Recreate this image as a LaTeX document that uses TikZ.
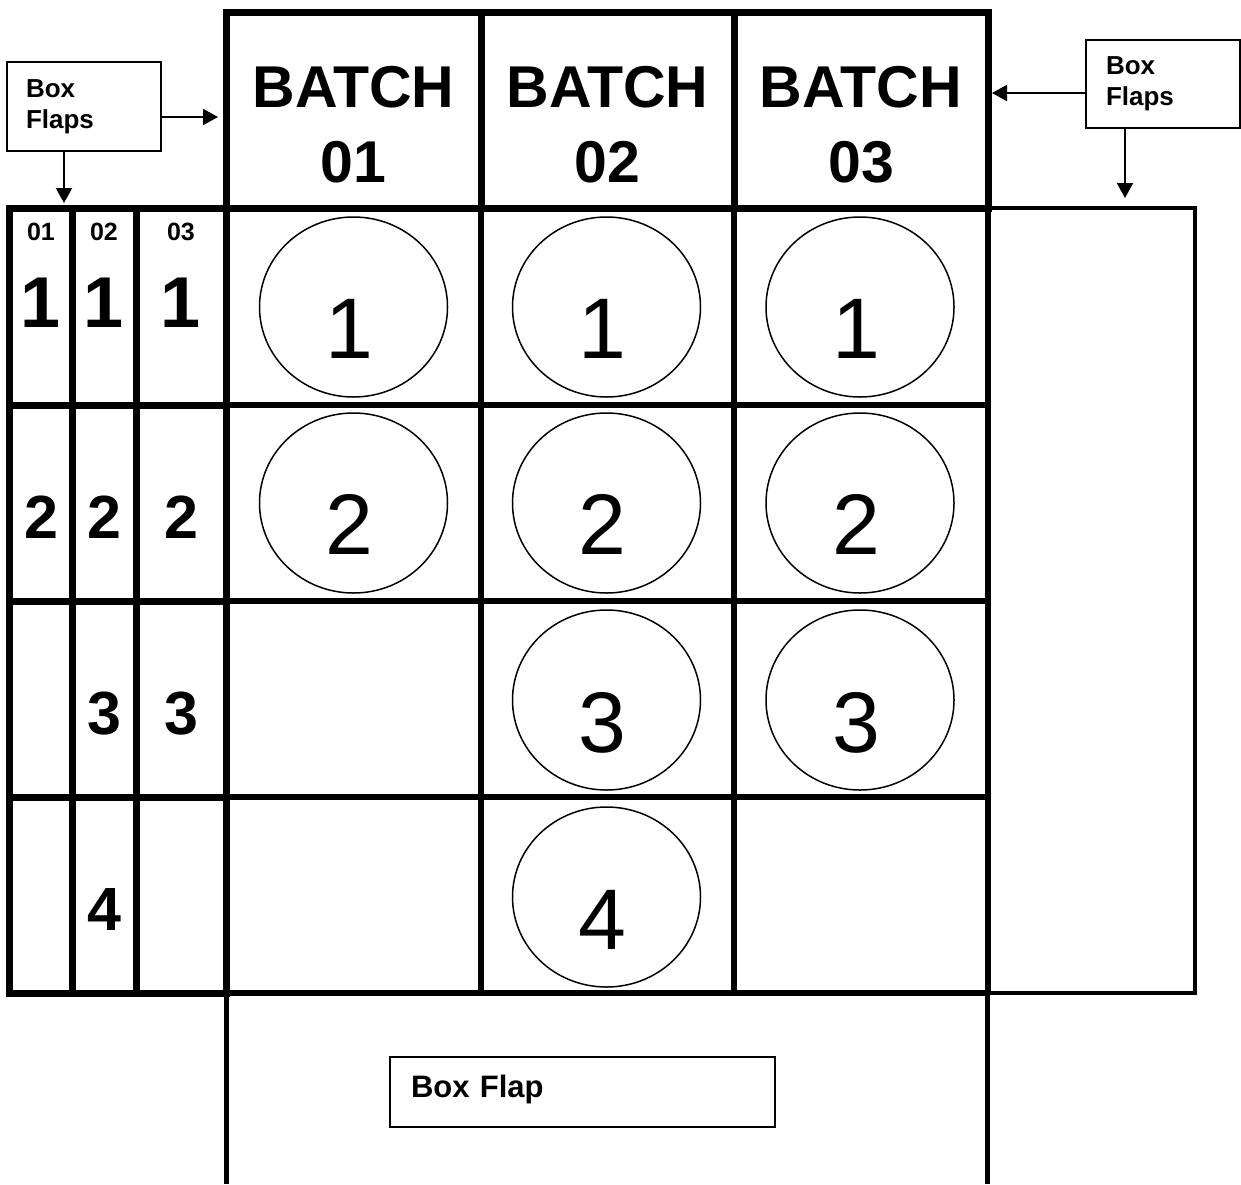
\documentclass[tikz,border=0pt]{standalone}
\usepackage{fontspec}
\setmainfont{Liberation Sans}
\usetikzlibrary{arrows.meta,shapes.geometric}
\tikzset{
  flapbox/.style={draw, line width=1.8pt, rectangle, outer sep=0pt, inner ysep=0pt, inner xsep=19pt,
    text width=116pt, minimum width=154pt, minimum height=89pt,
    font=\fontsize{26}{31}\selectfont\bfseries, align=left},
  hdrtxt/.style={font=\fontsize{59}{70}\selectfont\bfseries, anchor=base, inner sep=0pt},
  smalllab/.style={font=\fontsize{25}{30}\selectfont\bfseries, anchor=base, inner sep=0pt},
  bignum/.style={font=\fontsize{61}{70}\selectfont\bfseries, anchor=base, inner sep=0pt},
  firstnum/.style={font=\fontsize{72}{80}\selectfont\bfseries, anchor=base, inner sep=0pt},
  cellcirc/.style={draw, ellipse, line width=1.5pt, minimum width=188pt, minimum height=180pt, inner sep=0pt},
  circnum/.style={font=\fontsize{86}{90}\selectfont, anchor=base, inner sep=0pt},
  arr/.style={line width=2pt, -{Triangle[length=15pt,width=16pt]}},
  heavyline/.style={line width=7pt},
  gridline/.style={line width=5.5pt},
  panelline/.style={line width=4.5pt},
}
\begin{document}
\begin{tikzpicture}[x=1pt,y=-1pt]
\path[fill=white] (0,0) rectangle (1241,1184);
\useasboundingbox (0,0) rectangle (1241,1184);

% header box
\node[draw, heavyline, rectangle, outer sep=0pt, inner sep=0pt, minimum width=762pt, minimum height=196pt, anchor=north west] (hdr) at (226,12) {};
\draw[heavyline] (481,12) -- (481,208);
\draw[heavyline] (734,12) -- (734,208);
\node[hdrtxt] (b1) at (353.5,107) {BATCH};
\node[hdrtxt] (n1) at (353.5,182) {01};
\node[hdrtxt] (b2) at (607.5,107) {BATCH};
\node[hdrtxt] (n2) at (607.5,182) {02};
\node[hdrtxt] (b3) at (861,107) {BATCH};
\node[hdrtxt] (n3) at (861,182) {03};

% main grid
\draw[gridline] (481,208) -- (481,993);
\draw[gridline] (734,208) -- (734,993);
\draw[gridline] (988,208) -- (988,993);
\foreach \yy in {405,601,797,993} \draw[gridline] (226,\yy) -- (988,\yy);

% left section
\draw[heavyline] (9.5,208) rectangle (226,993);
\draw[heavyline] (72,208) -- (72,993);
\draw[heavyline] (136,208) -- (136,993);
\foreach \yy in {405,601,797} \draw[heavyline] (9.5,\yy) -- (226,\yy);

% right panel
\draw[panelline] (988,208) -- (1195,208) -- (1195,993) -- (988,993);

% bottom flap
\draw[line width=5pt] (226.5,993) -- (226.5,1184);
\draw[line width=5pt] (987.5,993) -- (987.5,1184);

% left labels
\node[smalllab] (l01) at (41,240) {01};
\node[smalllab] (l02) at (104,240) {02};
\node[smalllab] (l03) at (181,240) {03};
\node[firstnum] (a11) at (41,327) {1};
\node[firstnum] (a12) at (104,327) {1};
\node[firstnum] (a13) at (181,327) {1};
\node[bignum] (a21) at (41,538) {2};
\node[bignum] (a22) at (104,538) {2};
\node[bignum] (a23) at (181,538) {2};
\node[bignum] (a32) at (104,734) {3};
\node[bignum] (a33) at (181,734) {3};
\node[bignum] (a42) at (104,930) {4};

% circles
\node[cellcirc] (c11) at (353.5,307) {};
\node[cellcirc] (c12) at (606.5,307) {};
\node[cellcirc] (c13) at (860,307) {};
\node[cellcirc] (c21) at (353.5,503) {};
\node[cellcirc] (c22) at (606.5,503) {};
\node[cellcirc] (c23) at (860,503) {};
\node[cellcirc] (c32) at (606.5,700) {};
\node[cellcirc] (c33) at (860,700) {};
\node[cellcirc] (c42) at (606.5,897) {};
\node[circnum] (t11) at (349.5,358) {1};
\node[circnum] (t12) at (602.5,358) {1};
\node[circnum] (t13) at (856,358) {1};
\node[circnum] (t21) at (349.5,554) {2};
\node[circnum] (t22) at (602.5,554) {2};
\node[circnum] (t23) at (856,554) {2};
\node[circnum] (t32) at (602.5,752) {3};
\node[circnum] (t33) at (856,752) {3};
\node[circnum] (t42) at (602.5,949) {4};

% flap label boxes
\node[flapbox, anchor=north west] (lbox) at (7,62) {Box\\Flaps};
\node[flapbox, anchor=north west, minimum height=88pt, inner xsep=20pt, text width=114pt] (rbox) at (1086,40) {Box\\Flaps};
\node[draw, line width=1.8pt, rectangle, outer sep=0pt, anchor=north west, minimum width=385pt, minimum height=70pt,
      text width=343pt, inner xsep=21pt, inner ysep=0pt, text height=20pt, text depth=10pt,
      align=left, font=\fontsize{31}{36}\selectfont\bfseries] (bbox) at (390,1057) {Box Flap};

% arrows
\coordinate (la) at (218,117);
\coordinate (lb) at (64,203);
\coordinate (ra) at (992,93);
\coordinate (rb) at (1125,198);
\draw[arr] (lbox.east |- la) -- (la);
\draw[arr] (lbox.south -| lb) -- (lb);
\draw[arr] (rbox.west |- ra) -- (ra);
\draw[arr] (rbox.south -| rb) -- (rb);
\end{tikzpicture}
\end{document}
